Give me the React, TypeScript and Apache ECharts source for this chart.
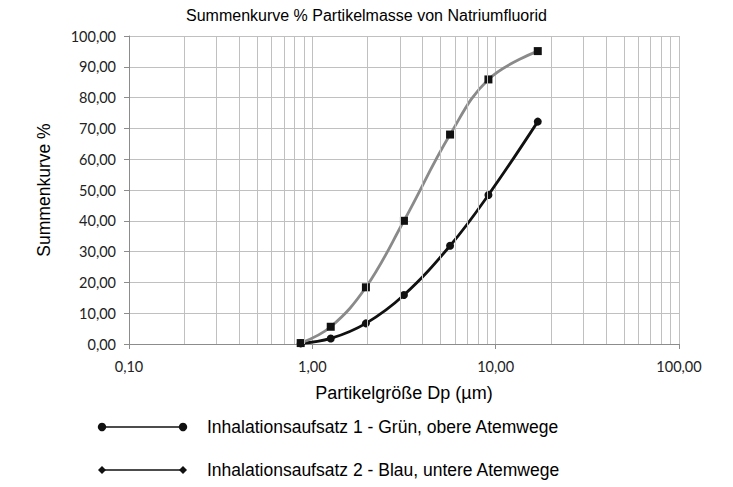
import React, { useEffect, useRef } from "react";
import * as echarts from "echarts";

const TITLE = "Summenkurve % Partikelmasse von Natriumfluorid";
const X_NAME = "Partikelgröße Dp (µm)";
const Y_NAME = "Summenkurve %";
const SERIES_NAMES = [
  "Inhalationsaufsatz 1 - Grün, obere Atemwege",
  "Inhalationsaufsatz 2 - Blau, untere Atemwege",
];
const particleSize = [0.864, 1.26, 1.96, 3.16, 5.64, 9.13, 16.97];
const series1 = [0.2, 1.8, 6.7, 15.9, 31.9, 48.4, 72.2];
const series2 = [0.3, 5.6, 18.4, 40.0, 68.0, 85.9, 95.1];
const minorGrid = [
  0.2, 0.3, 0.4, 0.5, 0.6, 0.7, 0.8, 0.9,
  2, 3, 4, 5, 6, 7, 8, 9,
  20, 30, 40, 50, 60, 70, 80, 90,
];

const fmt = (v: number) => v.toFixed(2).replace(".", ",");
const LABEL_FONT = "Lato, 'Open Sans', sans-serif";
const TEXT_FONT = "'Liberation Sans', Arial, sans-serif";

export default function App() {
  const ref = useRef<HTMLDivElement>(null);
  useEffect(() => {
    if (!ref.current) return;
    const chart = echarts.init(ref.current, undefined, { renderer: "svg" });
    const gridColor = "#c0c0c0";
    const axisColor = "#8c8c8c";
    chart.setOption({
      animation: false,
      backgroundColor: "#ffffff",
      title: {
        text: TITLE,
        left: "center",
        top: 2,
        textStyle: { fontFamily: TEXT_FONT, fontSize: 16, fontWeight: "normal", color: "#000" },
      },
      grid: { left: 129, right: 54, top: 36, bottom: 143 },
      xAxis: {
        type: "log",
        logBase: 10,
        min: 0.1,
        max: 100,
        name: X_NAME,
        nameLocation: "middle",
        nameGap: 40,
        nameTextStyle: { fontFamily: TEXT_FONT, fontSize: 18, color: "#000" },
        axisLine: { show: true, lineStyle: { color: axisColor, width: 1 } },
        axisTick: { show: true, length: 5, lineStyle: { color: axisColor } },
        axisLabel: {
          formatter: (v: number) => fmt(v),
          fontFamily: LABEL_FONT,
          fontSize: 14.5,
          color: "#222",
          margin: 15,
        },
        splitLine: { show: true, lineStyle: { color: gridColor, width: 1 } },
      },
      yAxis: {
        type: "value",
        min: 0,
        max: 100,
        interval: 10,
        name: Y_NAME,
        nameLocation: "middle",
        nameGap: 76,
        nameTextStyle: { fontFamily: TEXT_FONT, fontSize: 17.5, color: "#000" },
        axisLine: { show: true, lineStyle: { color: axisColor, width: 1 } },
        axisTick: { show: true, length: 5, lineStyle: { color: axisColor } },
        axisLabel: {
          formatter: (v: number) => fmt(v),
          fontFamily: LABEL_FONT,
          fontSize: 14.5,
          color: "#222",
          margin: 13,
        },
        splitLine: { show: true, lineStyle: { color: gridColor, width: 1 } },
      },
      series: [
        {
          type: "line",
          name: "minor-grid",
          data: [],
          silent: true,
          z: 0,
          markLine: {
            silent: true,
            symbol: ["none", "none"],
            label: { show: false },
            lineStyle: { color: gridColor, type: "solid", width: 1 },
            data: minorGrid.map((v) => ({ xAxis: v })),
          },
        },
        {
          type: "line",
          name: SERIES_NAMES[0],
          data: particleSize.map((x, i) => [x, series1[i]]),
          smooth: 0.4,
          symbol: "circle",
          symbolSize: 8,
          itemStyle: { color: "#111" },
          lineStyle: { color: "#111", width: 2.8 },
          z: 3,
        },
        {
          type: "line",
          name: SERIES_NAMES[1],
          data: particleSize.map((x, i) => [x, series2[i]]),
          smooth: 0.4,
          symbol: "rect",
          symbolSize: 8,
          itemStyle: { color: "#111" },
          lineStyle: { color: "#8a8a8a", width: 2.8 },
          z: 4,
        },
      ],
      graphic: [
        { type: "line", shape: { x1: 102, y1: 427, x2: 183, y2: 427 }, style: { stroke: "#111", lineWidth: 1.4 } },
        { type: "circle", shape: { cx: 102, cy: 427, r: 4.2 }, style: { fill: "#111" } },
        { type: "circle", shape: { cx: 183, cy: 427, r: 4.2 }, style: { fill: "#111" } },
        {
          type: "text",
          x: 207,
          y: 427,
          style: { text: SERIES_NAMES[0], fontFamily: TEXT_FONT, fontSize: 17.5, fill: "#000", verticalAlign: "middle" },
        },
        { type: "line", shape: { x1: 102, y1: 470, x2: 183, y2: 470 }, style: { stroke: "#111", lineWidth: 1.4 } },
        { type: "polygon", shape: { points: [[102, 466], [106, 470], [102, 474], [98, 470]] }, style: { fill: "#111" } },
        { type: "polygon", shape: { points: [[183, 466], [187, 470], [183, 474], [179, 470]] }, style: { fill: "#111" } },
        {
          type: "text",
          x: 207,
          y: 470,
          style: { text: SERIES_NAMES[1], fontFamily: TEXT_FONT, fontSize: 17.5, fill: "#000", verticalAlign: "middle" },
        },
      ],
    });
    return () => chart.dispose();
  }, []);
  return <div ref={ref} style={{ width: 733, height: 487, position: "fixed", left: 0, top: 0 }} />;
}
